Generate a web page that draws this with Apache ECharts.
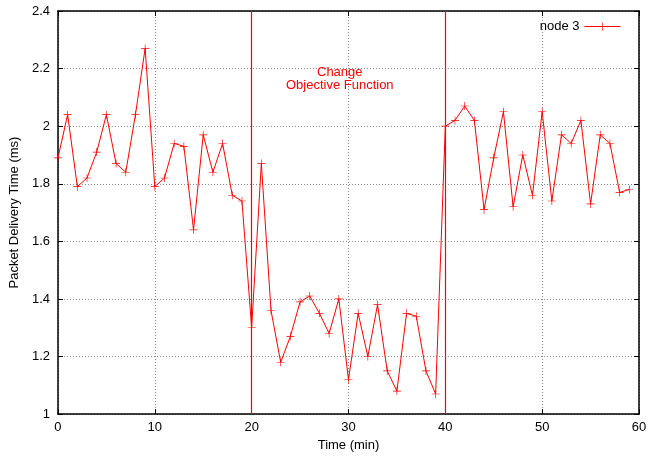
<!DOCTYPE html>
<html>
<head>
<meta charset="utf-8">
<script src="https://cdn.jsdelivr.net/npm/echarts@6/dist/echarts.min.js"></script>
<style>
  html, body { margin: 0; padding: 0; background: #fff; }
  #chart { width: 659px; height: 457px; }
</style>
</head>
<body>
<div id="chart"></div>
<script>
// Packet delivery time sampled once per minute
const minutes = Array.from({ length: 60 }, (_, i) => i);
const deliveryTime = [
  1.89, 2.04, 1.79, 1.82, 1.91, 2.04, 1.87, 1.84, 2.04, 2.27,
  1.79, 1.82, 1.94, 1.93, 1.64, 1.97, 1.84, 1.94, 1.76, 1.74,
  1.30, 1.87, 1.36, 1.18, 1.27, 1.39, 1.41, 1.35, 1.28, 1.40,
  1.12, 1.35, 1.20, 1.38, 1.15, 1.08, 1.35, 1.34, 1.15, 1.07,
  2.00, 2.02, 2.07, 2.02, 1.71, 1.89, 2.05, 1.72, 1.90, 1.76,
  2.05, 1.74, 1.97, 1.94, 2.02, 1.73, 1.97, 1.94, 1.77, 1.78
];
const switchTimes = [20, 40];
const annotation = { x: 29.1, y: 2.165, text: 'Change\nObjective Function' };
const seriesName = 'node 3';

const red = '#ff0000';
const font = 'Liberation Sans, Arial, sans-serif';
const plus = 'path://M4.6,0h0.8v10h-0.8z M0,4.6h10v0.8h-10z';

const gridLine = { show: true, lineStyle: { color: '#888', type: [1, 2], width: 1 } };
const frameLine = { show: true, onZero: false, lineStyle: { color: '#000', width: 1.5 } };
const innerTicks = { show: true, inside: true, length: 5, lineStyle: { color: '#000' } };

const chart = echarts.init(document.getElementById('chart'), null, { renderer: 'canvas' });
chart.setOption({
  animation: false,
  backgroundColor: '#fff',
  textStyle: { fontFamily: font },
  grid: { left: 55, right: 20, top: 11, bottom: 42 },
  legend: {
    right: 33, top: 15,
    align: 'right',
    itemWidth: 36, itemHeight: 10, itemGap: 6,
    lineStyle: { width: 1 },
    textStyle: { fontSize: 13, color: '#000', fontFamily: font },
    data: [seriesName]
  },
  xAxis: [
    {
      type: 'value', min: 0, max: 60, interval: 10, position: 'bottom',
      name: 'Time (min)', nameLocation: 'middle', nameGap: 22,
      nameTextStyle: { fontSize: 13, color: '#000', fontFamily: font },
      axisLine: frameLine, axisTick: innerTicks,
      axisLabel: { color: '#000', fontSize: 13, margin: 7, fontFamily: font },
      splitLine: gridLine
    },
    {
      type: 'value', min: 0, max: 60, interval: 10, position: 'top',
      axisLine: frameLine, axisTick: innerTicks,
      axisLabel: { show: false }, splitLine: { show: false }
    }
  ],
  yAxis: [
    {
      type: 'value', min: 1, max: 2.4, interval: 0.2, position: 'left',
      name: 'Packet Delivery Time (ms)', nameLocation: 'middle', nameGap: 32,
      nameTextStyle: { fontSize: 13, color: '#000', fontFamily: font },
      axisLine: frameLine, axisTick: innerTicks,
      axisLabel: { color: '#000', fontSize: 13, margin: 8, fontFamily: font,
        formatter: v => (Math.round(v * 10) / 10).toString() },
      splitLine: gridLine
    },
    {
      type: 'value', min: 1, max: 2.4, interval: 0.2, position: 'right',
      axisLine: frameLine, axisTick: innerTicks,
      axisLabel: { show: false }, splitLine: { show: false }
    }
  ],
  series: [
    {
      name: seriesName,
      type: 'line',
      data: minutes.map((m, i) => [m, deliveryTime[i]]),
      symbol: plus,
      symbolSize: 8,
      showAllSymbol: true,
      lineStyle: { color: red, width: 1 },
      itemStyle: { color: red },
      markLine: {
        silent: true,
        symbol: 'none',
        label: { show: false },
        lineStyle: { color: red, width: 1.2, type: 'solid' },
        data: switchTimes.map(t => ({ xAxis: t }))
      },
      markPoint: {
        silent: true,
        symbol: 'circle',
        symbolSize: 0,
        data: [{ coord: [annotation.x, annotation.y] }],
        label: {
          show: true, position: 'inside',
          formatter: annotation.text,
          color: red, fontSize: 13, lineHeight: 13, fontFamily: font, align: 'center'
        }
      }
    }
  ]
});
</script>
</body>
</html>
